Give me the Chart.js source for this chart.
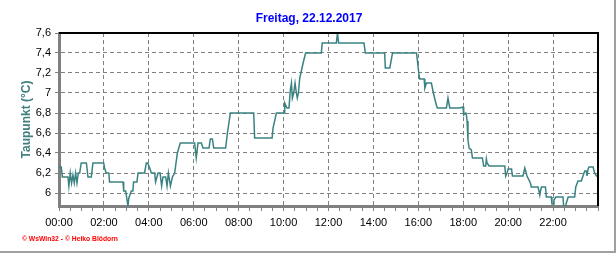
<!DOCTYPE html>
<html>
<head>
<meta charset="utf-8">
<script src="https://cdn.jsdelivr.net/npm/chart.js@4/dist/chart.umd.min.js"></script>
<style>
  html, body { margin: 0; padding: 0; background: #fff; }
  canvas { display: block; }
</style>
</head>
<body>
<canvas id="chart" width="616" height="253"></canvas>
<script>
// Taupunkt, Freitag 22.12.2017 (Stunden seit Mitternacht)
const hours = [
  0.00, 0.10, 0.15, 0.40, 0.44, 0.50, 0.56, 0.62, 0.68, 0.74, 0.80, 0.86, 0.92, 0.99,
  1.22, 1.29, 1.44, 1.51, 1.99, 2.03, 2.10, 2.22, 2.25, 2.85, 2.88, 2.97, 3.03, 3.07,
  3.11, 3.22, 3.29, 3.32, 3.47, 3.52, 3.81, 3.89, 3.95, 4.04, 4.11, 4.26, 4.30, 4.41,
  4.50, 4.57, 4.63, 4.75, 4.81, 4.87, 4.96, 5.05, 5.15, 5.27, 5.40, 6.04, 6.11, 6.19,
  6.34, 6.41, 6.68, 6.74, 6.83, 6.89, 7.42, 7.50, 7.63, 8.67, 8.71, 9.49, 9.53, 9.68,
  10.02, 10.05, 10.15, 10.24, 10.30, 10.35, 10.39, 10.45, 10.51, 10.57, 10.61, 10.66,
  10.72, 10.87, 10.98, 11.68, 11.72, 12.35, 12.40, 12.45, 13.58, 13.64, 14.50, 14.53,
  14.73, 14.85, 15.92, 16.02, 16.06, 16.26, 16.29, 16.36, 16.58, 16.67, 16.80, 16.85,
  17.25, 17.32, 17.40, 17.84, 17.99, 18.02, 18.11, 18.14, 18.17, 18.21, 18.26, 18.36,
  18.41, 18.85, 18.91, 19.00, 19.03, 19.06, 19.15, 19.85, 19.89, 19.95, 20.00, 20.15,
  20.19, 20.66, 20.74, 20.78, 20.84, 20.99, 21.03, 21.33, 21.41, 21.44, 21.48, 21.66,
  21.70, 21.92, 21.95, 22.01, 22.04, 22.12, 22.44, 22.47, 22.56, 22.59, 22.67, 22.96,
  23.01, 23.11, 23.26, 23.33, 23.41, 23.48, 23.51, 23.56, 23.60, 23.78, 23.85, 23.93,
  23.98
];
const dewPoint = [
  6.26, 6.26, 6.16, 6.16, 6.07, 6.20, 6.10, 6.18, 6.10, 6.20, 6.10, 6.20, 6.20, 6.30,
  6.30, 6.16, 6.16, 6.30, 6.30, 6.25, 6.20, 6.20, 6.11, 6.11, 6.02, 6.02, 5.93, 5.87,
  5.95, 6.02, 6.02, 6.11, 6.11, 6.20, 6.20, 6.30, 6.30, 6.25, 6.20, 6.20, 6.11, 6.20,
  6.20, 6.07, 6.16, 6.16, 6.07, 6.20, 6.07, 6.16, 6.20, 6.40, 6.50, 6.50, 6.35, 6.50,
  6.50, 6.45, 6.45, 6.54, 6.54, 6.45, 6.45, 6.60, 6.80, 6.80, 6.55, 6.55, 6.65, 6.80,
  6.80, 6.90, 6.85, 6.85, 7.03, 7.10, 6.95, 7.00, 7.10, 7.00, 6.95, 7.00,
  7.15, 7.30, 7.40, 7.40, 7.50, 7.50, 7.60, 7.50, 7.50, 7.40, 7.40, 7.25,
  7.25, 7.40, 7.40, 7.20, 7.14, 7.14, 7.05, 7.10, 7.10, 7.00, 6.88, 6.85,
  6.85, 6.95, 6.85, 6.85, 6.86, 6.78, 6.80, 6.78, 6.72, 6.53, 6.45, 6.43,
  6.35, 6.35, 6.27, 6.27, 6.34, 6.30, 6.27, 6.27, 6.17, 6.20, 6.24, 6.24,
  6.17, 6.17, 6.25, 6.22, 6.17, 6.10, 6.06, 6.06, 5.98, 6.02, 6.06, 6.06,
  5.96, 5.96, 5.89, 5.89, 5.93, 5.96, 5.96, 5.87, 5.87, 5.90, 5.96, 5.96,
  6.06, 6.12, 6.12, 6.17, 6.22, 6.22, 6.17, 6.24, 6.26, 6.26, 6.20, 6.17,
  6.17
];
const yTicks = [6, 6.2, 6.4, 6.6, 6.8, 7, 7.2, 7.4, 7.6];
const xTickLabels = ['00:00', '02:00', '04:00', '06:00', '08:00', '10:00',
                     '12:00', '14:00', '16:00', '18:00', '20:00', '22:00'];
const halfHours = Array.from({ length: 49 }, (_, i) => i / 2);

const FONT = 'Liberation Sans';
const GRID = '#808080';

// Rahmen, Titel und Copyright-Zeile
const frame = {
  id: 'frame',
  afterDraw(chart) {
    const { ctx, chartArea: a } = chart;
    ctx.save();
    ctx.strokeStyle = '#000';
    ctx.lineWidth = 2;
    ctx.beginPath();
    ctx.moveTo(a.left, a.top);
    ctx.lineTo(a.right, a.top);
    ctx.lineTo(a.right, a.bottom);
    ctx.stroke();

    ctx.strokeStyle = '#a0a0a0';
    ctx.beginPath();
    ctx.moveTo(0, 252);
    ctx.lineTo(615, 252);
    ctx.lineTo(615, 0);
    ctx.stroke();

    ctx.fillStyle = '#0000ff';
    ctx.font = 'bold 12px "' + FONT + '"';
    ctx.textAlign = 'center';
    ctx.textBaseline = 'middle';
    ctx.fillText('Freitag, 22.12.2017', 309, 19);

    ctx.fillStyle = '#ff0000';
    ctx.font = 'bold 7px "' + FONT + '"';
    ctx.textAlign = 'left';
    ctx.fillText('\u00a9 WsWin32 - \u00a9 Heiko Bl\u00f6dorn', 22, 239, 96);
    ctx.restore();
  }
};

const ctx = document.getElementById('chart');

new Chart(ctx, {
  type: 'line',
  data: {
    datasets: [{
      data: hours.map((h, i) => ({ x: h, y: dewPoint[i] })),
      borderColor: '#3a8282',
      borderWidth: 1.5,
      pointRadius: 0,
      tension: 0,
      fill: false
    }]
  },
  options: {
    responsive: false,
    animation: false,
    layout: { padding: { top: 33, right: 18, left: 0, bottom: 0 } },
    plugins: {
      legend: { display: false },
      tooltip: { enabled: false }
    },
    scales: {
      x: {
        type: 'linear',
        min: 0,
        max: 24,
        afterBuildTicks: s => { s.ticks = halfHours.map(v => ({ value: v })); },
        afterFit: s => { s.height = 47; },
        grid: {
          color: c => (c.tick && c.tick.value % 2 === 0) ? GRID : 'rgba(0,0,0,0)',
          tickColor: GRID,
          tickLength: 5
        },
        border: { color: GRID, width: 3, dash: [4, 3] },
        ticks: {
          autoSkip: false,
          maxRotation: 0,
          padding: 5,
          color: '#000',
          font: { family: FONT, size: 11 },
          callback: v => (v % 2 === 0 && v < 24) ? xTickLabels[v / 2] : ''
        }
      },
      y: {
        min: 5.87,
        max: 7.6,
        afterBuildTicks: s => { s.ticks = yTicks.map(v => ({ value: v })); },
        afterFit: s => { s.width = 59; },
        grid: { color: GRID, tickColor: GRID, tickLength: 4 },
        border: { color: GRID, width: 3, dash: [4, 3] },
        ticks: {
          padding: 4,
          color: '#000',
          font: { family: FONT, size: 11 },
          callback: v => String(v).replace('.', ',')
        },
        title: {
          display: true,
          text: 'Taupunkt (\u00b0C)',
          color: '#408080',
          font: { family: FONT, size: 12, weight: 'bold' },
          padding: { top: 19, bottom: 0 }
        }
      }
    }
  },
  plugins: [frame]
});
</script>
</body>
</html>
